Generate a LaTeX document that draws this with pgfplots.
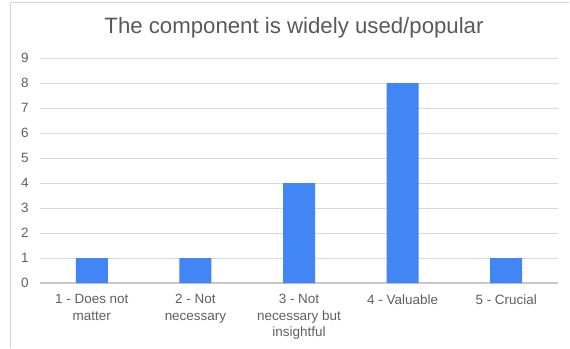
\documentclass[border=0pt]{standalone}
\usepackage{fontspec}
\setmainfont{Liberation Sans}
\usepackage{pgfplots}
\pgfplotsset{compat=1.18}
\definecolor{barblue}{HTML}{4285F4}
\definecolor{txtgray}{HTML}{5F5F5F}
\definecolor{titlegray}{HTML}{595959}
\definecolor{gridgray}{HTML}{D9D9D9}
\definecolor{basegray}{HTML}{C8C8C8}
\definecolor{framegray}{HTML}{D4D4D4}
\begin{document}
\begin{tikzpicture}[x=1bp,y=1bp]
  % page area and chart frame
  \path (0,0) rectangle (570,348);
  \draw[framegray, line width=0.8bp] (10,0) -- (10,345.5) -- (569,345.5);
  % title
  \node[text=titlegray, font=\fontsize{22.3}{26}\selectfont] at (294,320) {The component is widely used/popular};
  \begin{axis}[
    at={(40bp,65bp)}, anchor=south west,
    scale only axis, width=518bp, height=225bp,
    xmin=-0.5, xmax=4.5, ymin=0, ymax=9,
    ytick={0,...,9},
    xtick={0,1,2,3,4},
    xticklabels={{1 - Does not\\matter},{2 - Not\\necessary},{3 - Not\\necessary but\\insightful},{4 - Valuable},{5 - Crucial}},
    x tick label style={align=center, text=txtgray, font=\fontsize{13.5}{16.5}\selectfont, anchor=north, yshift=-8bp},
    y tick label style={text=txtgray, font=\fontsize{13.5}{16}\selectfont, anchor=east, xshift=-8bp},
    /pgf/number format/assume math mode=true,
    axis line style={draw=none},
    major tick length=0pt,
    ymajorgrids,
    grid style={gridgray, line width=0.8bp},
    extra y ticks={0},
    extra y tick labels={},
    extra y tick style={grid style={basegray, line width=1.2bp}},
    ybar, bar width=32bp,
  ]
    \addplot[fill=barblue, draw=none] coordinates {(0,1) (1,1) (2,4) (3,8) (4,1)};
  \end{axis}
\end{tikzpicture}
\end{document}
